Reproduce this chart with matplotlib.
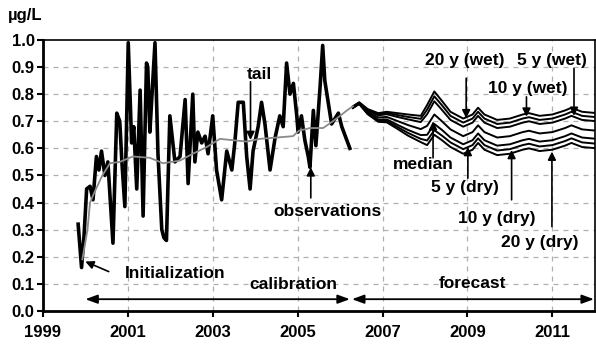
import numpy as np
import matplotlib
matplotlib.use("Agg")
import matplotlib.pyplot as plt

plt.rcParams['font.family'] = ['Liberation Sans', 'DejaVu Sans']
plt.rcParams['font.weight'] = 'bold'

# observations (thick black)
obs_year = [1999.83, 1999.91, 1999.97, 2000.03, 2000.11, 2000.18, 2000.26, 2000.32, 2000.38,
            2000.46, 2000.53, 2000.65, 2000.74, 2000.81, 2000.86, 2000.93, 2001.01, 2001.09,
            2001.14, 2001.21, 2001.29, 2001.36, 2001.44, 2001.47, 2001.52, 2001.57, 2001.64,
            2001.71, 2001.80, 2001.85, 2001.91, 2001.99, 2002.11, 2002.23, 2002.35, 2002.42,
            2002.53, 2002.58, 2002.65, 2002.74, 2002.82, 2002.89, 2003.00, 2003.09, 2003.21,
            2003.33, 2003.45, 2003.52, 2003.60, 2003.72, 2003.80, 2003.88, 2003.95, 2004.07,
            2004.15, 2004.23, 2004.35, 2004.47, 2004.58, 2004.66, 2004.74, 2004.82, 2004.90,
            2004.98, 2005.01, 2005.09, 2005.17, 2005.25, 2005.29, 2005.37, 2005.43, 2005.53,
            2005.59, 2005.64, 2005.72, 2005.80, 2005.88, 2005.96, 2006.04, 2006.23]
obs_val = [0.32, 0.16, 0.28, 0.45, 0.46, 0.41, 0.57, 0.52, 0.59,
           0.50, 0.55, 0.25, 0.73, 0.70, 0.55, 0.385, 0.99, 0.62,
           0.68, 0.45, 0.815, 0.35, 0.915, 0.90, 0.66, 0.80, 0.99,
           0.58, 0.30, 0.27, 0.26, 0.72, 0.55, 0.57, 0.78, 0.47,
           0.80, 0.55, 0.66, 0.62, 0.645, 0.58, 0.72, 0.52, 0.41,
           0.59, 0.52, 0.62, 0.77, 0.77, 0.57, 0.45, 0.59, 0.68,
           0.77, 0.69, 0.52, 0.64, 0.72, 0.68, 0.915, 0.80, 0.84,
           0.72, 0.66, 0.72, 0.63, 0.57, 0.53, 0.74, 0.61, 0.83,
           0.98, 0.85, 0.77, 0.69, 0.71, 0.73, 0.68, 0.60]

# calibration model (gray)
cal_year = [1999.93, 2000.05, 2000.11, 2000.22, 2000.40, 2000.58, 2000.81, 2001.12, 2001.52,
            2001.83, 2002.23, 2002.53, 2002.86, 2003.17, 2003.48, 2003.80, 2004.11, 2004.51,
            2004.89, 2005.03, 2005.29, 2005.60, 2005.83, 2006.00, 2006.16, 2006.30]
cal_val = [0.19, 0.30, 0.40, 0.44, 0.50, 0.545, 0.55, 0.57, 0.565,
           0.545, 0.555, 0.58, 0.605, 0.635, 0.63, 0.625, 0.635, 0.64,
           0.645, 0.665, 0.675, 0.675, 0.70, 0.72, 0.74, 0.755]

# forecast scenarios
fc_year = [2006.30, 2006.45, 2006.65, 2006.90, 2007.10, 2007.35, 2007.60, 2007.90, 2008.05,
           2008.22, 2008.40, 2008.60, 2008.90, 2009.12, 2009.25, 2009.40, 2009.70, 2010.00,
           2010.30, 2010.45, 2010.70, 2011.00, 2011.30, 2011.45, 2011.70, 2012.05]
wet20 = [0.755, 0.770, 0.745, 0.730, 0.735, 0.730, 0.725, 0.720, 0.760, 0.810, 0.775, 0.735, 0.710,
         0.725, 0.750, 0.725, 0.705, 0.710, 0.725, 0.730, 0.720, 0.725, 0.740, 0.750, 0.735, 0.730]
wet10 = [0.754, 0.769, 0.743, 0.726, 0.731, 0.723, 0.716, 0.709, 0.743, 0.792, 0.759, 0.720, 0.695,
         0.710, 0.735, 0.710, 0.690, 0.695, 0.710, 0.715, 0.705, 0.710, 0.725, 0.735, 0.720, 0.715]
wet5 = [0.754, 0.768, 0.740, 0.722, 0.726, 0.716, 0.707, 0.697, 0.726, 0.774, 0.742, 0.705, 0.680,
        0.695, 0.720, 0.695, 0.675, 0.680, 0.695, 0.700, 0.690, 0.695, 0.710, 0.720, 0.705, 0.700]
median = [0.752, 0.767, 0.735, 0.714, 0.716, 0.701, 0.686, 0.671, 0.683, 0.725, 0.700, 0.670, 0.645,
          0.660, 0.685, 0.660, 0.640, 0.645, 0.660, 0.665, 0.655, 0.660, 0.675, 0.685, 0.670, 0.665]
dry5 = [0.750, 0.765, 0.731, 0.706, 0.707, 0.687, 0.668, 0.649, 0.650, 0.690, 0.668, 0.640, 0.615,
        0.630, 0.655, 0.630, 0.610, 0.615, 0.630, 0.635, 0.625, 0.630, 0.645, 0.655, 0.640, 0.635]
dry10 = [0.749, 0.764, 0.728, 0.702, 0.701, 0.679, 0.657, 0.635, 0.629, 0.667, 0.647, 0.622, 0.597,
         0.612, 0.637, 0.612, 0.592, 0.597, 0.612, 0.617, 0.607, 0.612, 0.627, 0.637, 0.622, 0.617]
dry20 = [0.749, 0.764, 0.726, 0.698, 0.696, 0.672, 0.647, 0.623, 0.612, 0.650, 0.630, 0.605, 0.580,
         0.595, 0.620, 0.595, 0.575, 0.580, 0.595, 0.600, 0.590, 0.595, 0.610, 0.620, 0.605, 0.600]

fig = plt.figure(figsize=(5.96, 3.45), dpi=100)
ax = fig.add_axes([0.072, 0.099, 0.926, 0.785])

ax.plot(obs_year, obs_val, color='black', lw=2.6, zorder=3)
ax.plot(cal_year, cal_val, color='#8a8a8a', lw=1.3, zorder=4)
for s in [wet20, wet10, wet5, median, dry5, dry10, dry20]:
    ax.plot(fc_year, s, color='black', lw=1.4, zorder=3)

ax.set_xlim(1999, 2012.0)
ax.set_ylim(0, 1.0)
ax.set_xticks(np.arange(1999, 2012, 2))
ax.set_yticks(np.arange(0, 1.01, 0.1))
ax.set_yticklabels([f"{v:.1f}" for v in np.arange(0, 1.01, 0.1)])
ax.tick_params(axis='both', labelsize=12, direction='out', length=4, width=1.5)
ax.tick_params(axis='x', pad=6)
ax.tick_params(axis='y', pad=2)
for lab in ax.get_xticklabels() + ax.get_yticklabels():
    lab.set_fontweight('bold')

for yv in np.arange(0.1, 1.0, 0.1):
    ax.axhline(yv, color='#b0b0b0', lw=0.9, ls=(0, (4, 4)), zorder=1)
for xv in range(2001, 2012, 2):
    ax.axvline(xv, color='#b0b0b0', lw=0.9, ls=(0, (4, 4)), zorder=1)

for side in ['left', 'bottom']:
    ax.spines[side].set_linewidth(2)
for side in ['top', 'right']:
    ax.spines[side].set_linewidth(1.2)

fig.text(0.013, 0.955, 'µg/L', fontsize=12, fontweight='bold', va='center')

fs = 12.5
arr = dict(arrowstyle='-|>', color='black', lw=1.2, mutation_scale=12, shrinkA=0, shrinkB=0)

ax.text(2002.11, 0.139, 'Initialization', fontsize=fs, ha='center', va='center')
ax.annotate('', xy=(2000.0, 0.182), xytext=(2000.55, 0.145), arrowprops=arr)

ax.text(2004.11, 0.871, 'tail', fontsize=fs, ha='center', va='center')
ax.annotate('', xy=(2003.89, 0.631), xytext=(2003.89, 0.846), arrowprops=arr)

ax.text(2005.70, 0.366, 'observations', fontsize=fs, ha='center', va='center')
ax.annotate('', xy=(2005.31, 0.53), xytext=(2005.31, 0.417), arrowprops=arr)

ax.text(2007.96, 0.539, 'median', fontsize=fs, ha='center', va='center')
ax.annotate('', xy=(2008.19, 0.70), xytext=(2008.19, 0.565), arrowprops=arr)

ax.text(2008.94, 0.926, '20 y (wet)', fontsize=fs, ha='center', va='center')
ax.annotate('', xy=(2008.97, 0.711), xytext=(2008.97, 0.859), arrowprops=arr)

ax.text(2010.98, 0.926, '5 y (wet)', fontsize=fs, ha='center', va='center')
ax.annotate('', xy=(2011.51, 0.72), xytext=(2011.51, 0.895), arrowprops=arr)

ax.text(2010.43, 0.822, '10 y (wet)', fontsize=fs, ha='center', va='center')
ax.annotate('', xy=(2010.39, 0.717), xytext=(2010.39, 0.79), arrowprops=arr)

ax.text(2008.94, 0.454, '5 y (dry)', fontsize=fs, ha='center', va='center')
ax.annotate('', xy=(2009.01, 0.605), xytext=(2009.01, 0.49), arrowprops=arr)

ax.text(2009.69, 0.342, '10 y (dry)', fontsize=fs, ha='center', va='center')
ax.annotate('', xy=(2010.04, 0.594), xytext=(2010.04, 0.41), arrowprops=arr)

ax.text(2010.71, 0.252, '20 y (dry)', fontsize=fs, ha='center', va='center')
ax.annotate('', xy=(2010.99, 0.588), xytext=(2010.99, 0.311), arrowprops=arr)

ax.text(2004.89, 0.096, 'calibration', fontsize=fs, ha='center', va='center')
ax.text(2009.13, 0.102, 'forecast', fontsize=fs, ha='center', va='center')
darr = dict(arrowstyle='<|-|>,head_width=0.22,head_length=0.6', color='black', lw=1.3,
            mutation_scale=12, shrinkA=0, shrinkB=0)
ax.annotate('', xy=(2000.0, 0.043), xytext=(2006.23, 0.043), arrowprops=darr)
ax.annotate('', xy=(2006.28, 0.043), xytext=(2011.98, 0.043), arrowprops=darr)

fig.savefig('out.png', dpi=100)
